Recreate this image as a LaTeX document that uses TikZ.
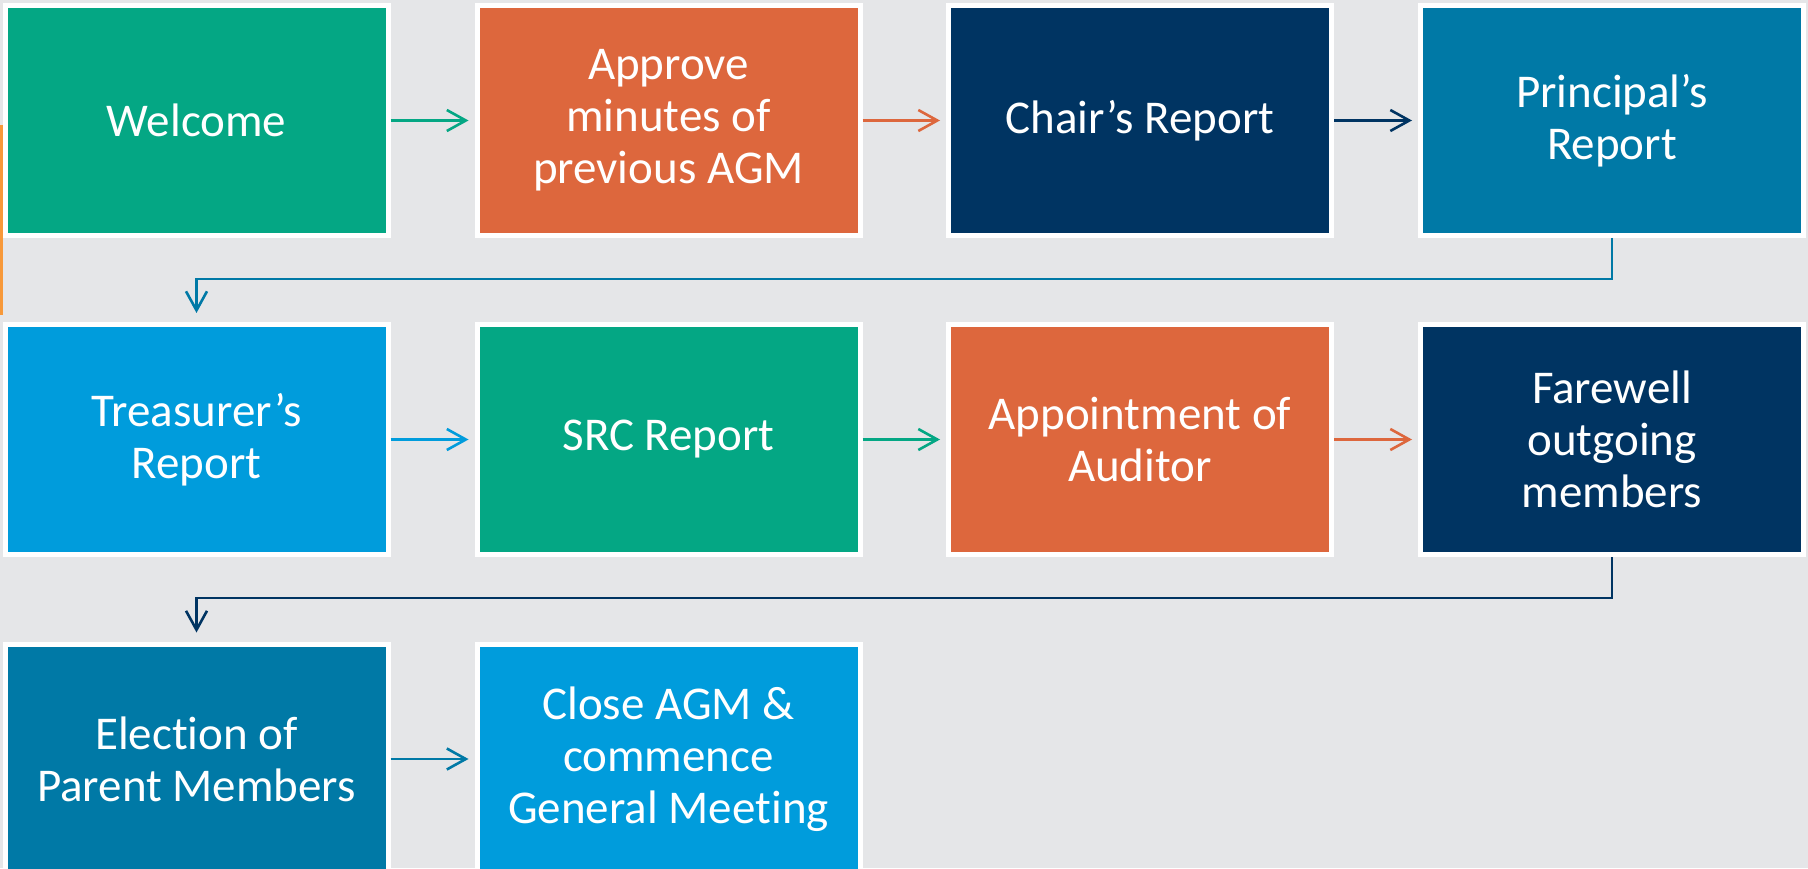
\documentclass[tikz,border=0pt]{standalone}
\usepackage{fontspec}
\setmainfont{Carlito}[Ligatures={NoCommon,NoRequired,NoContextual}]
\usetikzlibrary{arrows.meta}
\definecolor{bggray}{HTML}{E5E6E8}
\definecolor{cgreen}{HTML}{04A784}
\definecolor{corange}{HTML}{DD673D}
\definecolor{cnavy}{HTML}{003462}
\definecolor{cteal}{HTML}{0079A6}
\definecolor{clblue}{HTML}{009CDC}
\definecolor{cbar}{HTML}{F7993A}
\tikzset{
  stepbox/.style={rectangle, draw=white, line width=2.5pt, minimum width=191.5pt, minimum height=115pt,
    inner sep=0pt, align=center, text=white, font=\fontsize{23.5}{26}\selectfont},
  flow/.style={line width=1.3pt, -{Straight Barb[length=9.5pt,width=10.5pt]}, shorten >=3pt},
  down/.style={line width=1.3pt, -{Straight Barb[length=9.5pt,width=10.5pt]}, shorten >=4.5pt}
}
\begin{document}
\begin{tikzpicture}[x=0.5pt,y=0.5pt]
\useasboundingbox (0,0) rectangle (1808,868);
\clip (0,0) rectangle (1808,868);
\fill[bggray] (0,0) rectangle (1808,868);
\fill[cbar] (0,553) rectangle (3,743);
% row 1
\node[stepbox, fill=cgreen]  (welcome)   at (196.5,747.5) {Welcome};
\node[stepbox, fill=corange] (approve)   at (668.5,747.5) {Approve\\minutes of\\previous AGM};
\node[stepbox, fill=cnavy]   (chair)     at (1140,747.5)  {Chair’s Report};
\node[stepbox, fill=cteal]   (principal) at (1612,747.5)  {Principal’s\\Report};
% row 2
\node[stepbox, fill=clblue]  (treasurer) at (196.5,428.5) {Treasurer’s\\Report};
\node[stepbox, fill=cgreen]  (src)       at (668.5,428.5) {SRC Report};
\node[stepbox, fill=corange] (auditor)   at (1140,428.5)  {Appointment of\\Auditor};
\node[stepbox, fill=cnavy]   (farewell)  at (1612,428.5)  {Farewell\\outgoing\\members};
% row 3
\node[stepbox, fill=cteal]   (election)  at (196.5,109)   {Election of\\Parent Members};
\node[stepbox, fill=clblue]  (close)     at (668.5,109)   {Close AGM \&\\commence\\General Meeting};
% connectors
\draw[flow, cgreen]  (welcome) -- (approve);
\draw[flow, corange] (approve) -- (chair);
\draw[flow, cnavy]   (chair) -- (principal);
\draw[down, cteal]   (principal.south) |- (196.5,589) -- (treasurer.north);
\draw[flow, clblue]  (treasurer) -- (src);
\draw[flow, cgreen]  (src) -- (auditor);
\draw[flow, corange] (auditor) -- (farewell);
\draw[down, cnavy]   (farewell.south) |- (196.5,270) -- (election.north);
\draw[flow, cteal]   (election) -- (close);
\end{tikzpicture}
\end{document}
